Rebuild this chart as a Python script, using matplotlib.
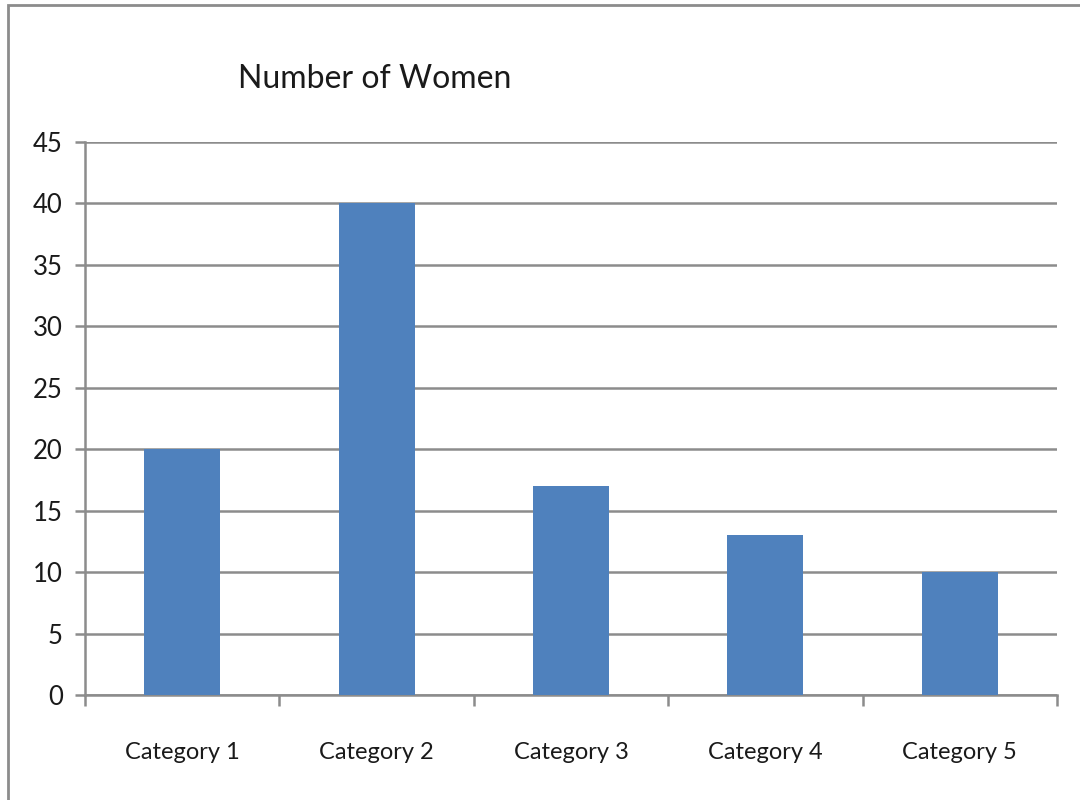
import matplotlib
matplotlib.use("Agg")
import matplotlib.pyplot as plt
from matplotlib.patches import Rectangle
import numpy as np

categories = ["Category 1", "Category 2", "Category 3", "Category 4", "Category 5"]
values = [20, 40, 17, 13, 10]
yticks = [0, 5, 10, 15, 20, 25, 30, 35, 40, 45]
title = "Number of Women"

plt.rcParams['font.family'] = ['Lato', 'DejaVu Sans']
grey = "#8c8c8c"
bar_color = "#4f81bd"

fig = plt.figure(figsize=(10.8, 8.0), dpi=100)
fig.patch.set_facecolor("white")
fig.patches.append(Rectangle((8/1080, -0.01), 1.02, 1 - 5/800 + 0.01, transform=fig.transFigure,
                             fill=False, edgecolor=grey, linewidth=2, zorder=0))

ax = fig.add_axes([85/1080, 105/800, 972/1080, 553/800])
x = np.arange(len(categories))
ax.bar(x, values, width=0.39, color=bar_color, zorder=3)
ax.set_xlim(-0.5, len(categories) - 0.5)
ax.set_ylim(0, 45)
ax.set_yticks(yticks)
ax.set_yticklabels([str(t) for t in yticks], fontsize=18.5, color="#1a1a1a")
ax.yaxis.grid(True, color=grey, linewidth=1.8, zorder=1)
ax.set_axisbelow(True)

ax.set_xticks(np.arange(-0.5, len(categories), 1.0))
ax.set_xticklabels([])
ax.set_xticks(x, minor=True)
ax.set_xticklabels(categories, minor=True, fontsize=17, color="#1a1a1a")
ax.tick_params(axis='x', which='minor', length=0, pad=34)
ax.tick_params(axis='x', which='major', length=8, width=1.8, color=grey, direction='out')
ax.tick_params(axis='y', length=7, width=1.8, color=grey, direction='out', pad=9)

for s in ["top", "right"]:
    ax.spines[s].set_visible(False)
for s in ["left", "bottom"]:
    ax.spines[s].set_color(grey)
    ax.spines[s].set_linewidth(1.8)

fig.text(238/1080, 1 - 79/800, title, fontsize=23, ha="left", va="center", color="#1a1a1a")

fig.savefig("out.png", dpi=100)
